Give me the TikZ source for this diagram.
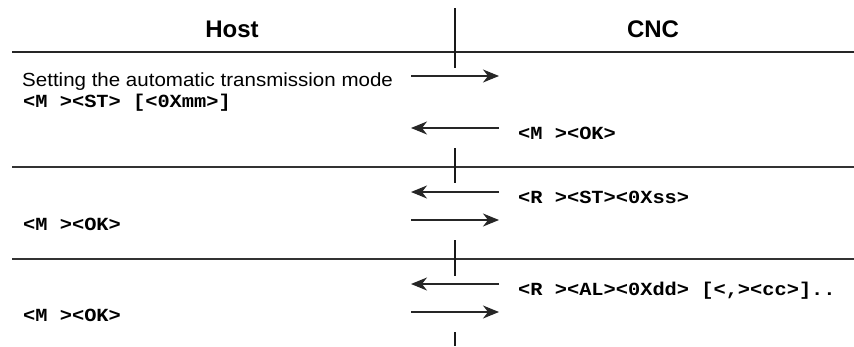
\documentclass[tikz,border=0pt]{standalone}
\usepackage{fontspec}
\setmainfont{Liberation Sans}[FakeStretch=1.08]
\newfontfamily\hdfont{Liberation Sans}
\newfontfamily\monofont{Liberation Mono}[FakeStretch=1.1]
\usetikzlibrary{arrows.meta}
\begin{document}
\begin{tikzpicture}[x=1pt,y=-1pt,
  hd/.style={font=\hdfont\bfseries\fontsize{24}{26}\selectfont, inner sep=0pt, anchor=base},
  txt/.style={font=\fontsize{19}{22}\selectfont, inner sep=0pt, anchor=base west},
  code/.style={font=\monofont\bfseries\fontsize{18.5}{20}\selectfont, inner sep=0pt, anchor=base west},
  toprule/.style={line width=2.6pt, draw=black!85},
  midrule/.style={line width=1.8pt, draw=black!80},
  msg/.style={line width=1.3pt, draw=black!85, -{Stealth[length=16pt,width=13pt,inset=5pt]}},
  life/.style={line width=1.5pt, draw=black!90}]
\useasboundingbox (0,0) rectangle (854,346);
% headers
\node[hd] (host) at (232,37) {Host};
\node[hd] (cnc) at (653,37) {CNC};
% rules
\coordinate (r1a) at (12,52);  \coordinate (r1b) at (854,52);
\coordinate (r2a) at (12,167); \coordinate (r2b) at (854,167);
\coordinate (r3a) at (12,259); \coordinate (r3b) at (854,259);
\draw[toprule] (r1a) -- (r1b);
\draw[midrule] (r2a) -- (r2b);
\draw[midrule] (r3a) -- (r3b);
% lifeline segments
\coordinate (v1a) at (455,8);   \coordinate (v1b) at (455,68);
\coordinate (v2a) at (455,148); \coordinate (v2b) at (455,183);
\coordinate (v3a) at (455,240); \coordinate (v3b) at (455,276);
\coordinate (v4a) at (455,332); \coordinate (v4b) at (455,346);
\draw[life] (v1a) -- (v1b);
\draw[life] (v2a) -- (v2b);
\draw[life] (v3a) -- (v3b);
\draw[life] (v4a) -- (v4b);
% messages
\coordinate (a1l) at (411,76);  \coordinate (a1r) at (499,76);
\coordinate (a2l) at (411,128); \coordinate (a2r) at (499,128);
\coordinate (a3l) at (411,192); \coordinate (a3r) at (499,192);
\coordinate (a4l) at (411,220); \coordinate (a4r) at (499,220);
\coordinate (a5l) at (411,284); \coordinate (a5r) at (499,284);
\coordinate (a6l) at (411,312); \coordinate (a6r) at (499,312);
\draw[msg] (a1l) -- (a1r);
\draw[msg] (a2r) -- (a2l);
\draw[msg] (a3r) -- (a3l);
\draw[msg] (a4l) -- (a4r);
\draw[msg] (a5r) -- (a5l);
\draw[msg] (a6l) -- (a6r);
% texts
\node[txt] (t1) at (22,86) {Setting the automatic transmission mode};
\node[code] (t2) at (23,107) {<M ><ST> [<0Xmm>]};
\node[code] (t3) at (518,139) {<M ><OK>};
\node[code] (t4) at (518,203) {<R ><ST><0Xss>};
\node[code] (t5) at (23,230) {<M ><OK>};
\node[code] (t6) at (518,295) {<R ><AL><0Xdd> [<,><cc>]..};
\node[code] (t7) at (23,321) {<M ><OK>};
\end{tikzpicture}
\end{document}
